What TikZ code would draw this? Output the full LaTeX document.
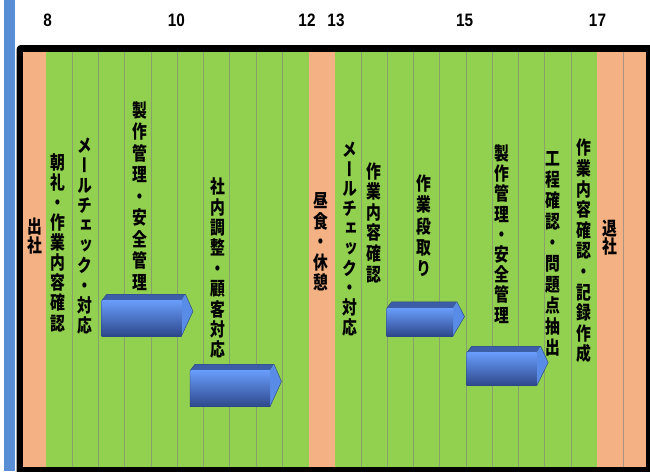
\documentclass[tikz,border=0pt]{standalone}
\usepackage{fontspec}
\newfontfamily\vfont{Noto Sans CJK JP}[RawFeature=+vert]
\newfontfamily\numfont{Liberation Sans}
\definecolor{ogreen}{RGB}{146,208,80}
\definecolor{oorange}{RGB}{244,177,131}
\definecolor{sidebar}{RGB}{88,142,214}
\definecolor{arrtop}{RGB}{60,94,168}
\definecolor{arrside}{RGB}{88,140,230}
\definecolor{arrfrontA}{RGB}{104,156,250}
\definecolor{arrfrontM}{RGB}{82,128,226}
\definecolor{arrfrontB}{RGB}{46,72,140}
\definecolor{gridc}{RGB}{128,128,128}
\newcommand{\blockarrow}[4]{%
  \pgfmathsetmacro\tipy{#3+0.3*(#4-#3)}%
  \fill[arrtop] (#1,#3) -- (#1+5,#3-6.5) -- (#2+4,#3-6.5) -- (#2,#3) -- cycle;
  \fill[arrside] (#2,#3) -- (#2+4,#3-6.5) -- (#2+11.5,\tipy) -- (#2,#4) -- cycle;
  \shade[top color=arrfrontA, middle color=arrfrontM, bottom color=arrfrontB] (#1,#3) rectangle (#2,#4);
  \draw[arrtop!70!black, line width=0.4pt, line join=round] (#1,#3) -- (#1+5,#3-6.5) -- (#2+4,#3-6.5) -- (#2+11.5,\tipy) -- (#2,#4) -- (#1,#4) -- cycle;
}
\begin{document}
\begin{tikzpicture}[x=1pt,y=-1pt,
  vtext/.style={align=center, inner sep=0pt, xscale=0.8,
    font=\vfont\bfseries\fontsize{18.5}{#1}\selectfont},
  vtext/.default=20.5,
  num/.style={inner sep=0pt, xscale=0.85,
    font=\numfont\bfseries\fontsize{18}{18}\selectfont},
  gridline/.style={draw=gridc, draw opacity=0.6, line width=0.8pt}]
\useasboundingbox (0,0) rectangle (650,471);
\fill[white] (0,0) rectangle (650,471);
% left side bar
\fill[sidebar] (3.5,0) rectangle (14.5,471);
% frame
\fill[black, rounded corners=4pt] (16.7,45) rectangle (655,476);
% columns
\fill[ogreen] (23,52) rectangle (645.5,467);
\fill[oorange] (23,52) rectangle (46,467);
\fill[oorange] (308.5,52) rectangle (334.75,467);
\fill[oorange] (597.25,52) rectangle (645.5,467);
% grid lines
\foreach \k in {1,...,9,12,13,...,20,22} {
  \draw[gridline] (46+26.25*\k,52) -- (46+26.25*\k,467);
}
% time labels
\node[num] (n8)  at (47.7,20.4)  {8};
\node[num] (n10) at (176.3,20.4) {10};
\node[num] (n12) at (307,20.4)   {12};
\node[num] (n13) at (336,20.4)   {13};
\node[num] (n15) at (464.7,20.4) {15};
\node[num] (n17) at (597.5,20.4) {17};
% arrows
\blockarrow{101.7}{181.5}{300.7}{336}
\blockarrow{190}{270}{370.7}{406.7}
\blockarrow{386.7}{453}{308.3}{336}
\blockarrow{466.7}{536.7}{352.7}{385.7}
% texts
\node[vtext=18.5] (t1) at (34.5,236) {出\\社};
\node[vtext=20.1] (t2) at (57.5,242.5) {朝\\礼\\・\\作\\業\\内\\容\\確\\認};
\node[vtext=20] (t3) at (85,236) {メ\\ー\\ル\\チ\\ェ\\ッ\\ク\\・\\対\\応};
\node[vtext=21.5] (t4) at (140,196) {製\\作\\管\\理\\・\\安\\全\\管\\理};
\node[vtext=20.4] (t5) at (218,268.3) {社\\内\\調\\整\\・\\顧\\客\\対\\応};
\node[vtext=20.4] (t6) at (321,242) {昼\\食\\・\\休\\憩};
\node[vtext=19.8] (t7) at (350,239) {メ\\ー\\ル\\チ\\ェ\\ッ\\ク\\・\\対\\応};
\node[vtext=20.6] (t8) at (373.5,222.5) {作\\業\\内\\容\\確\\認};
\node[vtext=21.2] (t9) at (424,225.8) {作\\業\\段\\取\\り};
\node[vtext=20.2] (t10) at (501.7,234) {製\\作\\管\\理\\・\\安\\全\\管\\理};
\node[vtext=21] (t11) at (553,253.5) {工\\程\\確\\認\\・\\問\\題\\点\\抽\\出};
\node[vtext=20.6] (t12) at (584,251) {作\\業\\内\\容\\確\\認\\・\\記\\録\\作\\成};
\node[vtext=18.5] (t13) at (610,237.5) {退\\社};
\end{tikzpicture}
\end{document}
